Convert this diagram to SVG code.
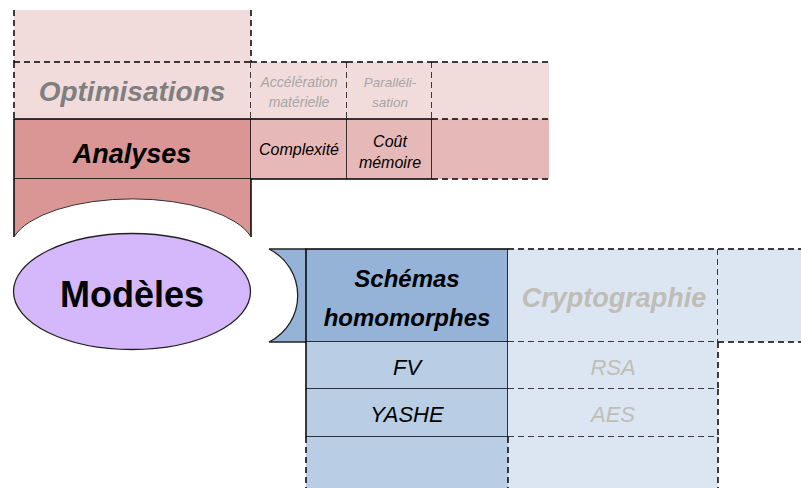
<svg xmlns="http://www.w3.org/2000/svg" width="801" height="488" viewBox="0 0 801 488">
<style>
text{font-family:"Liberation Sans",Arial,sans-serif;text-anchor:middle}
.bi{font-weight:bold;font-style:italic}
.it{font-style:italic}
.s{stroke:#000;stroke-width:1.5;fill:none}
.d{stroke:#000;stroke-width:1.5;fill:none;stroke-dasharray:6 4}
.p1{fill:#f2dcdb}.p2{fill:#e6b9b8}.p3{fill:#d99694}
.b1{fill:#dce6f2}.b2{fill:#b9cde5}.b3{fill:#95b3d7}
.g1{fill:#7f7f7f}.g2{fill:#a6a6a6}.g3{fill:#bfbdb7}
</style>
<rect width="801" height="488" fill="#fff"/>
<g id="analyses-top">
<rect class="p1" x="14" y="10" width="237" height="52"/>
<path class="d" d="M14,10V62M251,10V62"/>
</g>
<g id="optimisations">
<rect class="p1" x="14" y="62" width="237" height="57"/>
<path class="d" d="M14,62H251M14,62V119M251,62V119"/>
<text class="bi g1" x="132" y="101" font-size="28">Optimisations</text>
</g>
<g id="acceleration">
<rect class="p1" x="251" y="62" width="96" height="57"/>
<path class="d" d="M251,62H347M347,62V119"/>
<text class="it g2" x="299" y="87" font-size="14">Accélération</text>
<text class="it g2" x="299" y="107" font-size="14">matérielle</text>
</g>
<g id="parallelisation">
<rect class="p1" x="347" y="62" width="85" height="57"/>
<path class="d" d="M347,62H432M432,62V119"/>
<text class="it g2" x="390" y="87" font-size="13.5">Paralléli-</text>
<text class="it g2" x="390" y="107" font-size="13.5">sation</text>
</g>
<g id="opt-empty">
<rect class="p1" x="432" y="62" width="117" height="57"/>
<path class="d" d="M432,62H549"/>
</g>
<g id="analyses">
<rect class="p3" x="14" y="119" width="237" height="60"/>
<path class="s" d="M14,119H251V179H14Z"/>
<text class="bi" x="132" y="163" font-size="27">Analyses</text>
</g>
<g id="analyses-base">
<path class="p3" d="M14,179H251V237A122,50 0 0 0 14,237Z"/>
<path class="s" d="M14,237V179M251,179V237"/>
<path d="M251,237A122,50 0 0 0 14,237" fill="none" stroke="#333" stroke-width="1"/>
</g>
<g id="complexite">
<rect class="p2" x="251" y="119" width="96" height="60"/>
<path class="s" d="M251,119H347V179H251"/>
<text class="it" x="299" y="155" font-size="16">Complexité</text>
</g>
<g id="cout-memoire">
<rect class="p2" x="347" y="119" width="85" height="60"/>
<path class="s" d="M347,119H432V179H347"/>
<text class="it" x="390" y="147" font-size="16">Coût</text>
<text class="it" x="390" y="168" font-size="16">mémoire</text>
</g>
<g id="ana-empty">
<rect class="p2" x="432" y="119" width="117" height="60"/>
<path class="d" d="M432,119H549M432,179H549"/>
</g>
<g id="modeles">
<ellipse cx="132" cy="291.5" rx="118.5" ry="58" fill="#d5b8fc" stroke="#222" stroke-width="1.3"/>
<text x="132" y="307" font-size="36" font-weight="bold">Modèles</text>
</g>
<g id="schemas-bracket">
<path class="b3" d="M269,249H306V342H269A52,52 0 0 0 269,249Z"/>
<path d="M306,249H269A52,52 0 0 1 269,342H306" fill="none" stroke="#222" stroke-width="1.3"/>
</g>
<g id="schemas">
<rect class="b3" x="306" y="249" width="202" height="93"/>
<path class="s" d="M306,249H508V342H306Z"/>
<text class="bi" x="407" y="287" font-size="24">Schémas</text>
<text class="bi" x="407" y="326" font-size="24">homomorphes</text>
</g>
<g id="cryptographie">
<rect class="b1" x="508" y="249" width="210" height="93"/>
<path class="d" d="M508,249H718M508,342H718M718,249V342"/>
<text class="bi g3" x="614" y="307" font-size="27">Cryptographie</text>
</g>
<g id="crypto-empty">
<rect class="b1" x="718" y="249" width="83" height="93"/>
<path class="d" d="M718,249H801M718,342H801"/>
</g>
<g id="fv">
<rect class="b2" x="306" y="342" width="202" height="47"/>
<path class="s" d="M306,342V389H508V342"/>
<text class="it" x="407" y="375" font-size="22">FV</text>
</g>
<g id="rsa">
<rect class="b1" x="508" y="342" width="210" height="47"/>
<path class="d" d="M508,389H718M718,342V389"/>
<text class="it g3" x="613" y="375" font-size="22">RSA</text>
</g>
<g id="yashe">
<rect class="b2" x="306" y="389" width="202" height="48"/>
<path class="s" d="M306,389V437H508V389"/>
<text class="it" x="407" y="422" font-size="22">YASHE</text>
</g>
<g id="aes">
<rect class="b1" x="508" y="389" width="210" height="48"/>
<path class="d" d="M508,437H718M718,389V437"/>
<text class="it g3" x="613" y="422" font-size="22">AES</text>
</g>
<g id="schemas-empty">
<rect class="b2" x="306" y="437" width="202" height="51"/>
<path class="d" d="M306,437V488"/>
</g>
<g id="crypto-bottom">
<rect class="b1" x="508" y="437" width="210" height="51"/>
<path class="d" d="M508,437V488M718,437V488"/>
</g>
<g id="connectors"/>
</svg>
